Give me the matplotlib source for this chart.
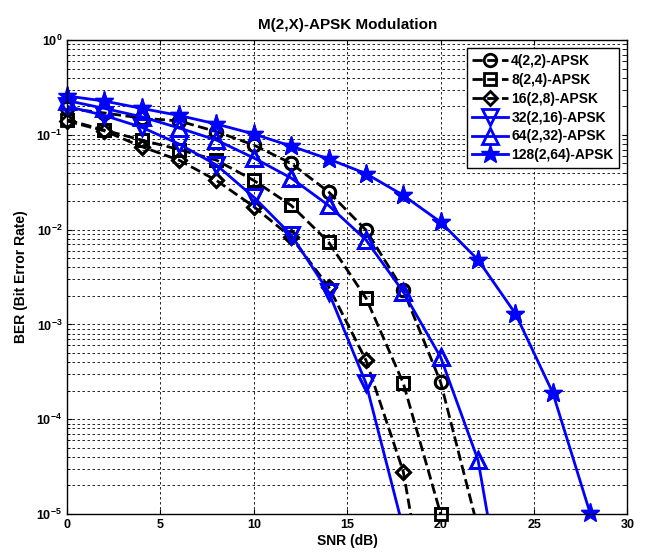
import numpy as np
import matplotlib
matplotlib.use('Agg')
import matplotlib.pyplot as plt
from matplotlib.ticker import LogLocator, NullFormatter, MultipleLocator

plt.rcParams['font.family'] = ['Liberation Sans', 'DejaVu Sans']
plt.rcParams['font.weight'] = 'bold'

# SNR points (dB)
snr = [0, 2, 4, 6, 8, 10, 12, 14, 16, 18, 20, 22, 24, 26, 28]

# BER curves
ber_4 = [0.19, 0.17, 0.15, 0.14, 0.108, 0.078, 0.05, 0.025, 0.0099, 0.0023, 2.45e-4, 7e-6]
ber_8 = [0.144, 0.112, 0.088, 0.07, 0.054, 0.033, 0.018, 0.0074, 0.0019, 2.4e-4, 1.0e-5]
ber_16 = [0.14, 0.11, 0.075, 0.054, 0.033, 0.0175, 0.0083, 0.0025, 4.2e-4, 2.8e-5, 1.5e-7]
ber_32 = [0.2, 0.16, 0.12, 0.08, 0.048, 0.022, 0.0088, 0.0022, 2.4e-4, 7e-6]
ber_64 = [0.23, 0.19, 0.155, 0.118, 0.088, 0.057, 0.035, 0.018, 0.0078, 0.0022, 4.5e-4, 3.7e-5, 2e-7]
ber_128 = [0.257, 0.227, 0.19, 0.16, 0.13, 0.102, 0.076, 0.0556, 0.039, 0.023, 0.012,
           0.0048, 0.0013, 1.9e-4, 1.02e-5]

labels = ['4(2,2)-APSK', '8(2,4)-APSK', '16(2,8)-APSK',
          '32(2,16)-APSK', '64(2,32)-APSK', '128(2,64)-APSK']

fig = plt.figure(figsize=(6.65, 5.56), dpi=100)
ax = fig.add_axes([0.1008, 0.0755, 0.8428, 0.8525])

black = dict(color='black', linestyle='--', linewidth=2, markersize=9,
             markerfacecolor='none', markeredgewidth=2)
blue = dict(color='#0000ff', linestyle='-', linewidth=2, markersize=11,
            markerfacecolor='none', markeredgewidth=2)

series = [
    (ber_4, 'o', black),
    (ber_8, 's', black),
    (ber_16, 'D', {**black, 'markersize': 7}),
    (ber_32, 'v', blue),
    (ber_64, '^', blue),
    (ber_128, '*', {**blue, 'markerfacecolor': '#0000ff', 'markersize': 14, 'markeredgewidth': 1}),
]

for (ber, mk, st), lab in zip(series, labels):
    x = snr[:len(ber)]
    ax.semilogy(x, ber, marker=mk, label=lab, **st)
    # markers on the axis edge are drawn whole, as in the original
    xs = [a for a, b in zip(x, ber) if b >= 0.99e-5]
    ys = [b for b in ber if b >= 0.99e-5]
    ax.plot(xs, ys, linestyle='none', marker=mk, clip_on=False,
            **{k: v for k, v in st.items() if k not in ('linestyle', 'linewidth')})

ax.set_xlim(0, 30)
ax.set_ylim(1e-5, 1)
ax.xaxis.set_major_locator(MultipleLocator(5))
ax.yaxis.set_major_locator(LogLocator(base=10, numticks=10))
ax.yaxis.set_minor_locator(LogLocator(base=10, subs=np.arange(2, 10), numticks=20))
ax.yaxis.set_minor_formatter(NullFormatter())

grid_style = dict(color='black', linestyle=(0, (3, 3)), linewidth=0.6)
ax.grid(True, which='major', axis='both', **grid_style)
ax.grid(True, which='minor', axis='y', **grid_style)

ax.tick_params(which='both', direction='in', labelsize=9, top=True, right=True)
ax.tick_params(which='minor', length=2)
for t in ax.get_xticklabels() + ax.get_yticklabels():
    t.set_fontweight('bold')

for sp in ax.spines.values():
    sp.set_linewidth(1)

ax.set_xlabel('SNR (dB)', fontsize=10, fontweight='bold', labelpad=2)
ax.set_ylabel('BER (Bit Error Rate)', fontsize=10, fontweight='bold', labelpad=6)
ax.set_title('M(2,X)-APSK Modulation', fontsize=11, fontweight='bold', pad=8)

leg = ax.legend(loc='upper right', fontsize=10, frameon=True, fancybox=False,
                edgecolor='black', framealpha=1, borderpad=0.4, labelspacing=0.35,
                handlelength=2.6, handletextpad=0.2, borderaxespad=0.6)
leg.get_frame().set_linewidth(1)
for t in leg.get_texts():
    t.set_fontweight('bold')

fig.savefig('out.png', dpi=100)
